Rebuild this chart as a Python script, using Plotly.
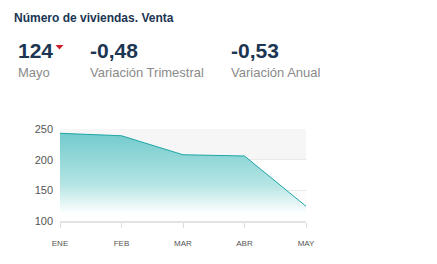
import plotly.graph_objects as go

months = ["ENE", "FEB", "MAR", "ABR", "MAY"]
values = [243, 239, 208, 206, 124]
yticks = [100, 150, 200, 250]

W, H = 437, 264
L, R, T, B = 60, 131, 129, 43
pw, ph = W - L - R, H - T - B

def px(x):
    return (x - L) / pw

def py(y):
    return (H - B - y) / ph

fig = go.Figure()
fig.add_trace(go.Scatter(
    x=months, y=values, mode="lines",
    line=dict(color="#1ea6a6", width=1),
    fill="tozeroy",
    fillgradient=dict(type="vertical", start=112, stop=250,
                      colorscale=[[0, "rgba(255,255,255,1)"], [0.35, "rgba(180,228,228,1)"], [1, "rgba(110,201,203,1)"]]),
    hoverinfo="skip", showlegend=False,
))

shapes = [
    dict(type="rect", xref="paper", yref="y", x0=0, x1=1, y0=200, y1=250,
         fillcolor="#f6f6f6", line_width=0, layer="below"),
    dict(type="rect", xref="paper", yref="y", x0=0, x1=1, y0=100, y1=150,
         fillcolor="#fcfcfc", line_width=0, layer="below"),
    dict(type="path", xref="paper", yref="paper",
         path="M %f %f L %f %f L %f %f Z" % (px(55.5), py(45), px(63.5), py(45), px(59.5), py(49.5)),
         fillcolor="#cc1f2d", line_width=0),
]

font = "Liberation Sans, Arial, sans-serif"
ann = []
def text(x, y, s, size, color, bold=False):
    ann.append(dict(xref="paper", yref="paper", x=px(x), y=py(y), text=("<b>%s</b>" % s) if bold else s,
                    xanchor="left", yanchor="middle", showarrow=False,
                    font=dict(family=font, size=size, color=color)))

text(12, 18, "Número de viviendas. Venta", 12, "#1b3552", True)
text(16, 50, "124", 21, "#1b3552", True)
text(88, 50, "-0,48", 21, "#1b3552", True)
text(229, 50, "-0,53", 21, "#1b3552", True)
text(16, 72, "Mayo", 13, "#8a8a8a")
text(88, 72, "Variación Trimestral", 13, "#8a8a8a")
text(229, 72, "Variación Anual", 13, "#8a8a8a")

fig.update_layout(
    width=W, height=H, margin=dict(l=L, r=R, t=T, b=B),
    paper_bgcolor="white", plot_bgcolor="white",
    shapes=shapes, annotations=ann,
    xaxis=dict(range=[0, 4], showgrid=False, zeroline=False,
               showline=True, linecolor="#e3e3e3", linewidth=2,
               ticks="outside", ticklen=5, tickcolor="#dcdcdc",
               tickfont=dict(family=font, size=8, color="#555"),
               ticklabelstandoff=8, fixedrange=True),
    yaxis=dict(range=[100, 250], tickvals=yticks, showgrid=True, gridcolor="#e9e9e9",
               zeroline=False, showline=False, ticks="",
               tickfont=dict(family=font, size=11, color="#555"),
               ticklabelstandoff=6, fixedrange=True),
)
fig.write_html("out.html")
